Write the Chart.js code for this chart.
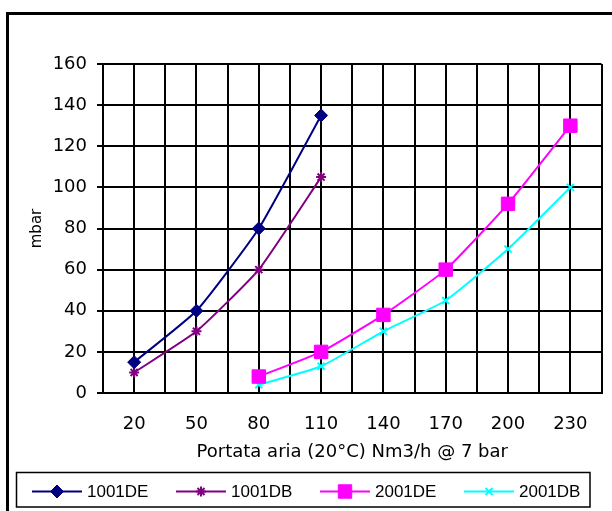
<!DOCTYPE html>
<html><head><meta charset="utf-8">
<script src="https://cdn.jsdelivr.net/npm/chart.js@4.4.0/dist/chart.umd.min.js"></script>
<style>html,body{margin:0;padding:0;background:#fff}canvas{display:block}</style>
</head><body>
<canvas id="c" width="612" height="511"></canvas>
<script>
const categories = ['20', '50', '80', '110', '140', '170', '200', '230'];
const s1001DE = [15, 40, 80, 135, null, null, null, null];
const s1001DB = [10, 30, 60, 105, null, null, null, null];
const s2001DE = [null, null, 8, 20, 38, 60, 92, 130];
const s2001DB = [null, null, 4, 13, 30, 45, 70, 100];
const seriesNames = ['1001DE', '1001DB', '2001DE', '2001DB'];
const yMin = 0, yMax = 160, yStep = 20;

const toPoints = arr => arr.map((v, i) => v == null ? null : {x: i, y: v}).filter(Boolean);

const FONT = 'DejaVu Sans';

const framePlugin = {
  id: 'frame',
  beforeDraw(chart) {
    const ctx = chart.ctx;
    ctx.save();
    ctx.fillStyle = '#fff';
    ctx.fillRect(0, 0, chart.width, chart.height);
    ctx.strokeStyle = '#000';
    ctx.lineWidth = 3;
    ctx.beginPath();
    ctx.moveTo(7.5, chart.height + 5);
    ctx.lineTo(7.5, 13.5);
    ctx.lineTo(chart.width + 5, 13.5);
    ctx.stroke();
    ctx.restore();
  }
};

const legendPlugin = {
  id: 'customLegend',
  afterDraw(chart) {
    const ctx = chart.ctx;
    ctx.save();
    ctx.strokeStyle = '#000';
    ctx.lineWidth = 1.5;
    ctx.strokeRect(16.5, 472.5, 573.5, 34.5);
    chart.data.datasets.forEach((ds, i) => {
      const x0 = 32 + i * 144, y = 491.5;
      ctx.strokeStyle = ds.borderColor;
      ctx.lineWidth = 2;
      ctx.beginPath();
      ctx.moveTo(x0, y);
      ctx.lineTo(x0 + 50, y);
      ctx.stroke();
      ctx.fillStyle = ds.backgroundColor;
      ctx.strokeStyle = ds.borderColor;
      ctx.lineWidth = ds.pointBorderWidth;
      Chart.helpers.drawPoint(ctx, {pointStyle: ds.pointStyle, radius: ds.pointRadius, borderWidth: ds.pointBorderWidth, rotation: 0}, x0 + 25, y);
      ctx.fillStyle = '#000';
      ctx.font = '17px "Liberation Sans"';
      ctx.textBaseline = 'middle';
      ctx.textAlign = 'left';
      ctx.fillText(ds.label, x0 + 55, y + 1);
    });
    ctx.restore();
  }
};

new Chart(document.getElementById('c'), {
  type: 'line',
  data: {
    datasets: [
      {label: seriesNames[0], data: toPoints(s1001DE), borderColor: '#000080', backgroundColor: '#000080', pointStyle: 'rectRot', pointRadius: 6.5, pointBorderWidth: 1, borderWidth: 2, tension: 0.15},
      {label: seriesNames[1], data: toPoints(s1001DB), borderColor: '#800080', backgroundColor: '#800080', pointStyle: 'star', pointRadius: 5, pointBorderWidth: 2, borderWidth: 2, tension: 0.15},
      {label: seriesNames[2], data: toPoints(s2001DE), borderColor: '#FF00FF', backgroundColor: '#FF00FF', pointStyle: 'rect', pointRadius: 9.5, pointBorderWidth: 1, borderWidth: 2, tension: 0.15},
      {label: seriesNames[3], data: toPoints(s2001DB), borderColor: '#00FFFF', backgroundColor: '#00FFFF', pointStyle: 'crossRot', pointRadius: 5, pointBorderWidth: 2, borderWidth: 2, tension: 0.15}
    ]
  },
  options: {
    responsive: false,
    animation: false,
    layout: {padding: {left: 0, right: 9, top: 64, bottom: 41}},
    plugins: {legend: {display: false}, tooltip: {enabled: false}},
    scales: {
      x: {
        type: 'linear', min: -0.5, max: 7.5,
        afterFit(s) { s.height = 77; s.paddingLeft = 0; s.paddingRight = 0; },
        grid: {color: '#000', lineWidth: 2, drawTicks: false},
        border: {color: '#000', width: 2},
        ticks: {stepSize: 0.5, autoSkip: false, maxRotation: 0, padding: 21, color: '#000', font: {family: FONT, size: 18},
          callback: v => Number.isInteger(v) ? categories[v] : ''},
        title: {display: true, text: 'Portata aria (20°C) Nm3/h @ 7 bar', color: '#000', font: {family: FONT, size: 18}, padding: {top: 0, bottom: 7}}
      },
      y: {
        min: yMin, max: yMax,
        afterFit(s) { s.width = 103; s.paddingTop = 0; s.paddingBottom = 0; },
        grid: {color: '#000', lineWidth: 2, tickLength: 6},
        border: {color: '#000', width: 2},
        ticks: {stepSize: yStep, padding: 10, color: '#000', font: {family: FONT, size: 18}},
        title: {display: true, text: 'mbar', color: '#000', font: {family: FONT, size: 15}, padding: {top: 28, bottom: 0}}
      }
    }
  },
  plugins: [framePlugin, legendPlugin]
});
</script>
</body></html>
